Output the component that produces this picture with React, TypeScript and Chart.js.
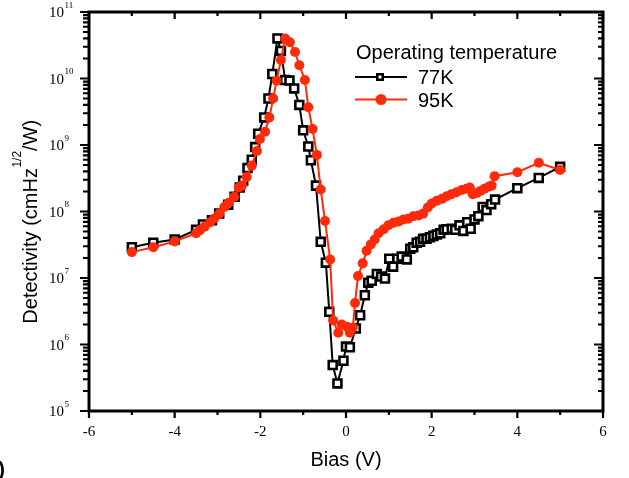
import React, { useEffect, useRef } from "react";
import { Chart, registerables } from "chart.js";

Chart.register(...registerables);

// ---- Data ----
const bias77K = [
  -5.0, -4.5, -4.0, -3.5, -3.34, -3.13, -2.96, -2.75, -2.6, -2.48, -2.4, -2.3, -2.2, -2.12, -2.05, -1.91,
  -1.81, -1.72, -1.6, -1.52, -1.42, -1.32, -1.21, -1.09, -1.0, -0.88, -0.82, -0.7, -0.59, -0.47, -0.39,
  -0.31, -0.2, -0.06, 0.0, 0.09, 0.23, 0.33, 0.44, 0.52, 0.6, 0.72, 0.82, 0.91, 1.01, 1.1, 1.2, 1.3,
  1.42, 1.5, 1.57, 1.65, 1.73, 1.8, 1.88, 1.96, 2.04, 2.12, 2.2, 2.28, 2.35, 2.47, 2.55, 2.65, 2.74,
  2.83, 2.91, 3.0, 3.09, 3.19, 3.28, 3.39, 3.48, 4.0, 4.5, 5.0,
];
const det77K = [
  2.9e7, 3.4e7, 3.8e7, 5.3e7, 6.4e7, 7.4e7, 9.3e7, 1.26e8, 1.66e8, 2.3e8, 2.9e8, 4.5e8, 6.0e8, 9.3e8, 1.48e9, 2.6e9,
  5.0e9, 1.17e10, 4.0e10, 2.6e10, 9.5e9, 9.3e9, 7.1e9, 4.0e9, 1.66e9, 9.5e8, 5.9e8, 2.45e8, 3.5e7, 1.7e7, 3.1e6,
  4.9e5, 2.6e5, 5.7e5, 9.3e5, 9.1e5, 1.74e6, 2.75e6, 5.5e6, 8.5e6, 9.1e6, 1.15e7, 1.05e7, 9.8e6, 1.95e7, 1.48e7, 1.95e7, 2.1e7,
  1.9e7, 2.75e7, 2.9e7, 3.4e7, 3.5e7, 3.9e7, 3.9e7, 4.1e7, 4.3e7, 4.5e7, 4.7e7, 5.3e7, 5.4e7, 5.5e7, 5.3e7, 6.2e7, 5.1e7,
  6.9e7, 5.5e7, 7.6e7, 8.5e7, 1.17e8, 1.05e8, 1.29e8, 1.51e8, 2.24e8, 3.2e8, 4.7e8,
];

const bias95K = [
  -5.0, -4.5, -4.0, -3.5, -3.41, -3.3, -3.17, -3.08, -2.96, -2.84, -2.74, -2.61, -2.5, -2.43, -2.32, -2.2,
  -2.08, -2.01, -1.89, -1.79, -1.7, -1.62, -1.52, -1.42, -1.31, -1.19, -1.09, -0.96, -0.88, -0.78, -0.68,
  -0.59, -0.49, -0.37, -0.3, -0.18, -0.1, 0.02, 0.09, 0.16, 0.21, 0.28, 0.39, 0.48, 0.58, 0.67, 0.76,
  0.88, 0.99, 1.11, 1.23, 1.34, 1.45, 1.57, 1.69, 1.8, 1.91, 2.0, 2.12, 2.24, 2.35, 2.46, 2.58, 2.7,
  2.81, 2.89, 2.96, 3.05, 3.14, 3.23, 3.33, 3.4, 3.47, 4.0, 4.5, 5.0,
];
const det95K = [
  2.45e7, 2.9e7, 3.55e7, 4.7e7, 5.25e7, 5.9e7, 6.9e7, 7.8e7, 9.3e7, 1.17e8, 1.35e8, 1.66e8, 2.3e8, 2.45e8, 3.3e8, 4.9e8,
  8.1e8, 1.23e9, 1.58e9, 2.6e9, 5.0e9, 9.3e9, 1.9e10, 4.0e10, 3.5e10, 2.5e10, 1.58e10, 9.5e9, 3.7e9, 1.74e9, 7.1e8,
  2.14e8, 7.2e7, 1.9e7, 2.3e6, 1.5e6, 2.0e6, 1.85e6, 1.5e6, 1.8e6, 4.2e6, 1.07e7, 1.66e7, 2.57e7, 3.2e7, 3.8e7, 4.7e7,
  5.4e7, 6.2e7, 6.8e7, 7.1e7, 7.6e7, 7.8e7, 8.5e7, 8.7e7, 9.3e7, 1.15e8, 1.32e8, 1.45e8, 1.55e8, 1.7e8, 1.82e8, 1.95e8, 2.1e8,
  2.2e8, 2.3e8, 1.82e8, 1.9e8, 2.04e8, 2.2e8, 2.35e8, 2.45e8, 3.4e8, 3.9e8, 5.4e8, 4.2e8,
];

const biasTickLabels = [-6, -4, -2, 0, 2, 4, 6];
const biasMinorTicks = [-5, -3, -1, 1, 3, 5];
const detExponents = [5, 6, 7, 8, 9, 10, 11];
const seriesNames = ["77K", "95K"];
const legendTitle = "Operating temperature";
const xTitle = "Bias (V)";
const yTitleMain = "Detectivity (cmHz";
const yTitleSup = "1/2";
const yTitleEnd = "/W)";

const RED = "#ff2a0a";
const SERIF = '"Liberation Serif", "Times New Roman", serif';
const SANS = '"Liberation Sans", Arial, sans-serif';

const decorPlugin = {
  id: "decor",
  afterDraw(chart: any) {
    const { ctx, chartArea: a, scales } = chart;
    const xs = scales.x;
    const ys = scales.y;
    ctx.save();
    ctx.strokeStyle = "#000";
    ctx.fillStyle = "#000";

    // frame
    ctx.lineWidth = 3;
    ctx.strokeRect(a.left, a.top, a.right - a.left, a.bottom - a.top);

    // x ticks
    ctx.lineWidth = 2.2;
    ctx.beginPath();
    biasTickLabels.forEach((v) => {
      const px = xs.getPixelForValue(v);
      ctx.moveTo(px, a.bottom);
      ctx.lineTo(px, a.bottom + 7);
      ctx.moveTo(px, a.top);
      ctx.lineTo(px, a.top + 7);
    });
    biasMinorTicks.forEach((v) => {
      const px = xs.getPixelForValue(v);
      ctx.moveTo(px, a.bottom);
      ctx.lineTo(px, a.bottom + 4);
      ctx.moveTo(px, a.top);
      ctx.lineTo(px, a.top + 4);
    });
    // y ticks
    detExponents.forEach((e) => {
      const py = ys.getPixelForValue(Math.pow(10, e));
      ctx.moveTo(a.left - 9, py);
      ctx.lineTo(a.left + 1, py);
      ctx.moveTo(a.right - 9, py);
      ctx.lineTo(a.right, py);
      if (e < 11) {
        for (let m = 2; m <= 9; m++) {
          const pm = ys.getPixelForValue(m * Math.pow(10, e));
          ctx.moveTo(a.left - 6, pm);
          ctx.lineTo(a.left, pm);
          ctx.moveTo(a.right - 5, pm);
          ctx.lineTo(a.right, pm);
        }
      }
    });
    ctx.stroke();

    // y tick labels with superscripts
    detExponents.forEach((e) => {
      const py = ys.getPixelForValue(Math.pow(10, e));
      ctx.font = `15px ${SERIF}`;
      ctx.textAlign = "right";
      ctx.textBaseline = "alphabetic";
      ctx.fillText("10", 64, py + 5);
      ctx.font = `9px ${SERIF}`;
      ctx.textAlign = "left";
      ctx.fillText(String(e), 64.5, py - 4.5);
    });

    // y title
    ctx.save();
    ctx.translate(37, 222);
    ctx.rotate(-Math.PI / 2);
    ctx.textAlign = "left";
    ctx.textBaseline = "alphabetic";
    const mainFont = `20px ${SANS}`;
    const supFont = `12px ${SANS}`;
    ctx.font = mainFont;
    const w1 = ctx.measureText(yTitleMain).width;
    const w3 = ctx.measureText(yTitleEnd).width;
    ctx.font = supFont;
    const w2 = ctx.measureText(yTitleSup).width;
    const total = w1 + w2 + w3;
    let x0 = -total / 2;
    ctx.font = mainFont;
    ctx.fillText(yTitleMain, x0, 0);
    x0 += w1 + 0.5;
    ctx.font = supFont;
    ctx.fillText(yTitleSup, x0, -16);
    x0 += w2;
    ctx.font = mainFont;
    ctx.fillText(yTitleEnd, x0, 0);
    ctx.restore();

    // legend
    const ds = chart.data.datasets;
    ctx.font = `20px ${SANS}`;
    ctx.textAlign = "left";
    ctx.textBaseline = "alphabetic";
    ctx.fillStyle = "#000";
    ctx.fillText(legendTitle, 356, 59);
    const rows = [
      { d: ds[1], y: 77 },
      { d: ds[0], y: 99.5 },
    ];
    rows.forEach(({ d, y }) => {
      ctx.strokeStyle = d.borderColor;
      ctx.lineWidth = 2.2;
      ctx.beginPath();
      ctx.moveTo(355, y);
      ctx.lineTo(407, y);
      ctx.stroke();
      if (d.pointStyle === "rect") {
        ctx.fillStyle = "#000";
        ctx.fillRect(376, y - 4, 8, 8);
        ctx.fillStyle = "#fff";
        ctx.fillRect(378.5, y - 1.5, 3, 3);
      } else {
        ctx.fillStyle = d.pointBackgroundColor;
        ctx.beginPath();
        ctx.arc(381, y, 5.5, 0, Math.PI * 2);
        ctx.fill();
      }
      ctx.fillStyle = "#000";
      ctx.font = `20px ${SANS}`;
      ctx.fillText(d.label, 418, y + 7.2);
    });

    // cropped panel letter fragment at the bottom-left edge
    ctx.font = `bold 20px ${SANS}`;
    ctx.textAlign = "right";
    ctx.fillText(")", 5, 476);
    ctx.restore();
  },
};

export default function App() {
  const ref = useRef<HTMLCanvasElement | null>(null);
  useEffect(() => {
    document.body.style.margin = "0";
    const canvas = ref.current!;
    const chart = new Chart(canvas, {
      type: "scatter",
      data: {
        datasets: [
          {
            label: seriesNames[1],
            data: bias95K.map((x, i) => ({ x, y: det95K[i] })),
            showLine: true,
            borderColor: RED,
            backgroundColor: RED,
            pointBackgroundColor: RED,
            pointBorderColor: RED,
            pointStyle: "circle",
            pointRadius: 5,
            pointBorderWidth: 0,
            borderWidth: 2,
            order: 0,
          } as any,
          {
            label: seriesNames[0],
            data: bias77K.map((x, i) => ({ x, y: det77K[i] })),
            showLine: true,
            borderColor: "#000",
            backgroundColor: "#fff",
            pointBackgroundColor: "#fff",
            pointBorderColor: "#000",
            pointStyle: "rect",
            pointRadius: 5.6,
            pointBorderWidth: 2.6,
            borderWidth: 2,
            order: 1,
          } as any,
        ],
      },
      options: {
        responsive: false,
        animation: false,
        devicePixelRatio: 1,
        layout: { padding: { left: 0, top: 12, right: 26, bottom: 0 } },
        plugins: { legend: { display: false }, tooltip: { enabled: false } },
        scales: {
          x: {
            type: "linear",
            position: "bottom",
            min: -6,
            max: 6,
            afterBuildTicks: (s: any) => {
              s.ticks = biasTickLabels.map((v) => ({ value: v }));
            },
            afterFit: (s: any) => {
              s.height = 67;
            },
            ticks: {
              color: "#000",
              font: { family: SERIF, size: 15 },
              padding: 12,
              maxRotation: 0,
              callback: (v: any) => String(v),
            },
            grid: { display: false, drawTicks: false },
            border: { display: false },
            title: {
              display: true,
              text: xTitle,
              color: "#000",
              font: { family: SANS, size: 20 },
              padding: { top: 0, bottom: 6 },
            },
          },
          y: {
            type: "logarithmic",
            min: 1e5,
            max: 1e11,
            afterFit: (s: any) => {
              s.width = 89;
            },
            ticks: { display: false },
            grid: { display: false, drawTicks: false },
            border: { display: false },
          },
        },
      } as any,
      plugins: [decorPlugin],
    });
    return () => chart.destroy();
  }, []);
  return (
    <div style={{ position: "absolute", left: 0, top: 0, width: 629, height: 478 }}>
      <canvas ref={ref} width={629} height={478} style={{ width: 629, height: 478 }} />
    </div>
  );
}
